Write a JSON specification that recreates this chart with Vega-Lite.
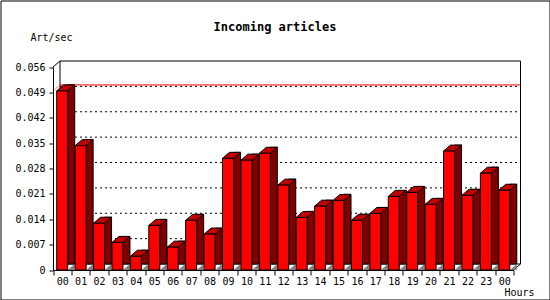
{
  "$schema": "https://vega.github.io/schema/vega-lite/v6.json",
  "width": 549,
  "height": 299,
  "autosize": {"type": "none"},
  "padding": {"left": 0.5, "top": 0.5, "right": 0, "bottom": 0},
  "background": "white",
  "config": {
    "view": {"stroke": "black", "strokeWidth": 1, "fill": "white"},
    "axis": {
      "domainColor": "black", "tickColor": "black", "labelColor": "black", "titleColor": "black",
      "labelFont": "DejaVu Sans Mono", "labelFontSize": 10, "titleFont": "DejaVu Sans Mono",
      "titleFontSize": 10, "titleFontWeight": "normal", "grid": false
    }
  },
  "title": {
    "text": "Incoming articles", "anchor": "middle", "frame": "group", "offset": -42.5,
    "baseline": "alphabetic", "font": "DejaVu Sans Mono", "fontSize": 12, "fontWeight": "bold", "color": "black"
  },
  "datasets": {
    "hits": [
      {"slot": 0, "hour": "00", "rate": 0.0494},
      {"slot": 1, "hour": "01", "rate": 0.0343},
      {"slot": 2, "hour": "02", "rate": 0.0129},
      {"slot": 3, "hour": "03", "rate": 0.0076},
      {"slot": 4, "hour": "04", "rate": 0.0038},
      {"slot": 5, "hour": "05", "rate": 0.0123},
      {"slot": 6, "hour": "06", "rate": 0.0063},
      {"slot": 7, "hour": "07", "rate": 0.0137},
      {"slot": 8, "hour": "08", "rate": 0.0099},
      {"slot": 9, "hour": "09", "rate": 0.0308},
      {"slot": 10, "hour": "10", "rate": 0.0303},
      {"slot": 11, "hour": "11", "rate": 0.0322},
      {"slot": 12, "hour": "12", "rate": 0.0234},
      {"slot": 13, "hour": "13", "rate": 0.0145},
      {"slot": 14, "hour": "14", "rate": 0.0176},
      {"slot": 15, "hour": "15", "rate": 0.0192},
      {"slot": 16, "hour": "16", "rate": 0.0137},
      {"slot": 17, "hour": "17", "rate": 0.0156},
      {"slot": 18, "hour": "18", "rate": 0.0203},
      {"slot": 19, "hour": "19", "rate": 0.0214},
      {"slot": 20, "hour": "20", "rate": 0.0181},
      {"slot": 21, "hour": "21", "rate": 0.0328},
      {"slot": 22, "hour": "22", "rate": 0.0206},
      {"slot": 23, "hour": "23", "rate": 0.0267},
      {"slot": 24, "hour": "00", "rate": 0.0220}
    ],
    "grid": [{"v": 0.007}, {"v": 0.014}, {"v": 0.021}, {"v": 0.028}, {"v": 0.035}, {"v": 0.042}, {"v": 0.049}],
    "corners": [{"xa": -0.5, "ya": 0.056}, {"xa": 24.5, "ya": 0}]
  },
  "data": {"name": "hits"},
  "layer": [
    {
      "data": {"values": [{"k": 1}]},
      "mark": {"type": "rect", "fill": "white", "stroke": "black", "strokeWidth": 1, "xOffset": 7, "x2Offset": 7, "yOffset": -6, "y2Offset": -6},
      "encoding": {
        "x": {
          "datum": -0.5, "type": "quantitative",
          "scale": {"domain": [-0.5, 24.5], "range": [52.5, 513], "nice": false, "zero": false, "padding": 0},
          "axis": {
            "values": [-0.5, 0.5, 1.5, 2.5, 3.5, 4.5, 5.5, 6.5, 7.5, 8.5, 9.5, 10.5, 11.5, 12.5, 13.5, 14.5, 15.5, 16.5, 17.5, 18.5, 19.5, 20.5, 21.5, 22.5, 23.5, 24.5],
            "tickCount": 100,
            "labelExpr": "datum.value > 24 ? '' : (((datum.value + 0.5) % 24) < 10 ? '0' : '') + ((datum.value + 0.5) % 24)",
            "labelOffset": 9.21, "labelFlush": false, "labelOverlap": false, "labelBound": false, "labelAngle": 0,
            "labelPadding": 1, "tickSize": 5, "offset": -29.5, "zindex": 1,
            "title": "Hours", "titleX": 533.5, "titleY": 22.5, "titleAlign": "right", "titleBaseline": "middle"
          }
        },
        "x2": {"datum": 24.5},
        "y": {
          "datum": 0.056, "type": "quantitative",
          "scale": {"domain": [0, 0.056], "range": [269.5, 66.5], "nice": false, "zero": false, "padding": 0},
          "axis": {
            "values": [0, 0.007, 0.014, 0.021, 0.028, 0.035, 0.042, 0.049, 0.056],
            "tickCount": 100,
            "labelExpr": "datum.value == 0 ? '0' : format(datum.value, '.3f')",
            "labelFlush": false, "labelOverlap": false, "labelBound": false,
            "offset": -52.5, "tickSize": 4, "labelPadding": 4, "zindex": 1,
            "title": "Art/sec", "titleAngle": 0, "titleX": -23, "titleY": 36.5, "titleAlign": "left", "titleBaseline": "middle"
          }
        },
        "y2": {"datum": 0}
      }
    },
    {
      "data": {"name": "grid"},
      "mark": {"type": "rule", "color": "black", "strokeWidth": 1, "strokeDash": [2, 3], "xOffset": 7, "x2Offset": 7, "yOffset": -6},
      "encoding": {
        "x": {"datum": -0.5, "type": "quantitative"},
        "x2": {"datum": 24.5},
        "y": {"field": "v", "type": "quantitative"}
      }
    },
    {
      "mark": {"type": "rule", "color": "#ff0000", "strokeWidth": 1, "xOffset": 7, "x2Offset": 7, "yOffset": -6},
      "encoding": {
        "x": {"datum": -0.5, "type": "quantitative"},
        "x2": {"datum": 24.5},
        "y": {"aggregate": "max", "field": "rate", "type": "quantitative"}
      }
    },
    {
      "mark": {"type": "rule", "color": "#ff0000", "strokeWidth": 1, "strokeDash": [1, 1], "x2Offset": 7, "y2Offset": -6},
      "encoding": {
        "x": {"datum": -0.5, "type": "quantitative"},
        "x2": {"datum": -0.5},
        "y": {"aggregate": "max", "field": "rate", "type": "quantitative"},
        "y2": {"aggregate": "max", "field": "rate"}
      }
    },
    {
      "data": {"name": "corners"},
      "mark": {"type": "rule", "color": "black", "strokeWidth": 1, "x2Offset": 7, "y2Offset": -6},
      "encoding": {
        "x": {"field": "xa", "type": "quantitative"},
        "x2": {"field": "xa"},
        "y": {"field": "ya", "type": "quantitative"},
        "y2": {"field": "ya"}
      }
    },
    {
      "mark": {"type": "bar", "width": 7, "xOffset": 9, "yOffset": -6, "fill": "#800000", "stroke": "black", "strokeWidth": 1},
      "encoding": {
        "x": {"field": "slot", "type": "quantitative"},
        "y": {"field": "rate", "type": "quantitative"}
      }
    },
    {
      "mark": {"type": "point", "shape": "M5.5,0L12.5,-6L12.5,0Z", "size": 4, "filled": true, "opacity": 1, "fill": "#808080", "strokeWidth": 0},
      "encoding": {
        "x": {"field": "slot", "type": "quantitative"},
        "y": {"datum": 0, "type": "quantitative"}
      }
    },
    {
      "mark": {"type": "point", "shape": "M-5.5,0L1.5,-6L12.5,-6L5.5,0Z", "size": 4, "filled": true, "opacity": 1, "fill": "#c00000", "stroke": "black", "strokeWidth": 1},
      "encoding": {
        "x": {"field": "slot", "type": "quantitative"},
        "y": {"field": "rate", "type": "quantitative"}
      }
    },
    {
      "mark": {"type": "bar", "width": 11, "fill": "#ff0000", "stroke": "black", "strokeWidth": 1},
      "encoding": {
        "x": {"field": "slot", "type": "quantitative"},
        "y": {"field": "rate", "type": "quantitative"}
      }
    }
  ]
}
